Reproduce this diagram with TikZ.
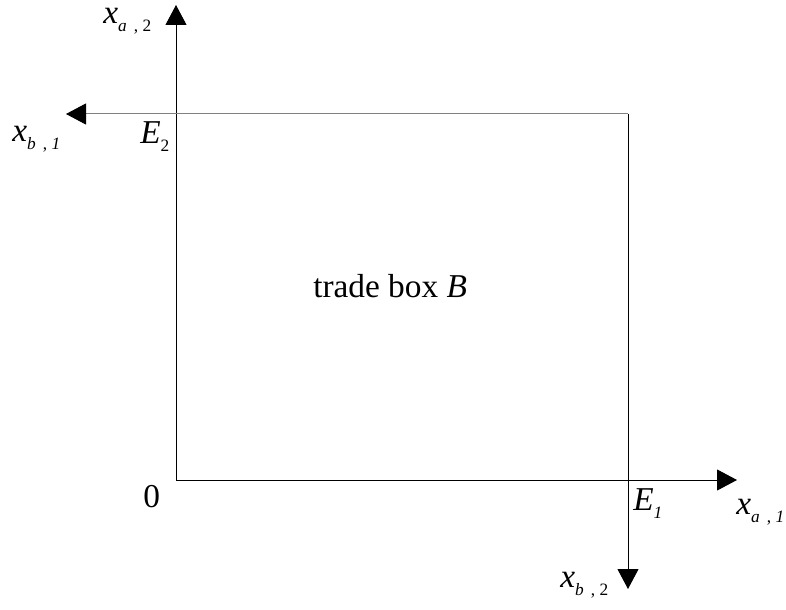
\documentclass[tikz,border=0pt]{standalone}
\usepackage{fontspec}
\setmainfont{Liberation Serif}
\usetikzlibrary{arrows.meta}
\newcommand{\lbl}[2]{\textit{#1}\raisebox{-6pt}{\fontsize{13}{13}\selectfont #2}}
\begin{document}
\begin{tikzpicture}[x=0.75pt,y=-0.75pt,
  axis/.style={line width=0.75pt,-{Triangle[length=15pt,width=15.75pt,color=black]}},
  txt/.style={inner sep=0pt,anchor=base west,font=\fontsize{25}{29}\selectfont}]
\useasboundingbox (0,0) rectangle (786,610);
\coordinate (O) at (176,480);
\coordinate (T) at (176,5);
\coordinate (R) at (737,480);
\coordinate (C) at (628,114);
\coordinate (L) at (66,114);
\coordinate (D) at (628,589);
\draw[axis] (O) -- (T);
\draw[axis] (O) -- (R);
\draw[axis,draw=black!50] (C) -- (L);
\draw[axis] (C) -- (D);
\node[txt] (xa2) at (103,24) {\lbl{x}{\textit{a}\,\ ,\ 2}};
\node[txt] (xb1) at (12,142) {\lbl{x}{\textit{b}\,\ ,\ \textit{1}}};
\node[txt] (E2) at (140,143) {\lbl{E}{2}};
\node[txt] (zero) at (143,507) {0};
\node[txt] (E1) at (633,510) {\lbl{E}{\textit{1}}};
\node[txt] (xa1) at (736,514) {\lbl{x}{\textit{a}\,\ ,\ \textit{1}}};
\node[txt] (xb2) at (560,587) {\lbl{x}{\textit{b}\,\ ,\ 2}};
\node[txt] (tb) at (313,297) {trade box \textit{B}};
\end{tikzpicture}
\end{document}
